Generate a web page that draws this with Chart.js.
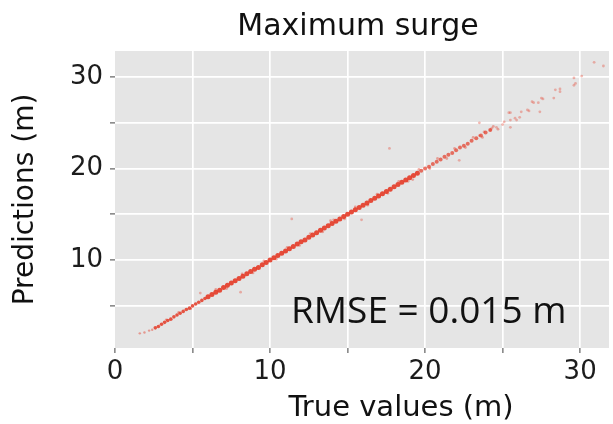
<!DOCTYPE html>
<html>
<head>
<meta charset="utf-8">
<title>Maximum surge</title>
<script src="https://cdn.jsdelivr.net/npm/chart.js@4.4.1/dist/chart.umd.min.js"></script>
<style>
    html, body { margin: 0; padding: 0; background: #fff; }
    #wrap { position: relative; width: 613px; height: 424px; overflow: hidden; }
</style>
</head>
<body>
<div id="wrap"><canvas id="surge"></canvas></div>
<script>
// ---- data (metres): [true value, prediction] ----
const lowStragglers = [[1.6, 2.0], [1.9, 2.1], [2.2, 2.3], [2.4, 2.4], [3.3, 3.5], [4.1, 4.3], [4.9, 4.7]];

const lowBand = [
    [2.6, 2.6], [2.8, 2.75], [3.0, 3.0], [3.2, 3.2], [3.4, 3.4], [3.6, 3.55], [3.8, 3.8], [4.0, 4.0],
    [4.2, 4.2], [4.4, 4.4], [4.6, 4.6], [4.8, 4.75], [5.0, 5.0], [5.2, 5.2], [5.4, 5.4], [5.6, 5.6], [5.8, 5.8]
];

const midBand = [
    [6.0, 6.0], [6.25, 6.25], [6.5, 6.5], [6.75, 6.7], [7.0, 7.0], [7.25, 7.25], [7.5, 7.5], [7.75, 7.75],
    [8.0, 8.0], [8.25, 8.25], [8.5, 8.5], [8.75, 8.75], [9.0, 9.0], [9.25, 9.2], [9.5, 9.5], [9.75, 9.75],
    [10.0, 10.0], [10.25, 10.25], [10.5, 10.5], [10.75, 10.75], [11.0, 11.0], [11.25, 11.25], [11.5, 11.5],
    [11.75, 11.75], [12.0, 12.0], [12.25, 12.2], [12.5, 12.5], [12.75, 12.75], [13.0, 13.0], [13.25, 13.25],
    [13.5, 13.5], [13.75, 13.75], [14.0, 14.0], [14.25, 14.25], [14.5, 14.5], [14.75, 14.75], [15.0, 15.0],
    [15.25, 15.25], [15.5, 15.5], [15.75, 15.75], [16.0, 16.0], [16.25, 16.25], [16.5, 16.5], [16.75, 16.75],
    [17.0, 17.0], [17.25, 17.25], [17.5, 17.5], [17.75, 17.75], [18.0, 18.0], [18.25, 18.25], [18.5, 18.5],
    [18.75, 18.75], [19.0, 19.0], [19.25, 19.25], [19.5, 19.5]
];

const highBand = [
    [19.75, 19.75], [20.0, 20.0], [20.25, 20.2], [20.5, 20.5], [20.75, 20.75], [21.0, 21.0], [21.25, 21.3],
    [21.5, 21.5], [21.75, 21.7], [22.0, 22.0], [22.25, 22.3], [22.5, 22.5], [22.75, 22.7], [23.0, 23.05],
    [23.3, 23.3], [23.6, 23.6], [23.9, 23.95], [24.2, 24.2]
];

const bandFuzz = [
    [6.5, 6.8], [7.2, 6.9], [8.2, 8.5], [8.9, 8.6], [9.6, 9.9], [10.4, 10.1], [11.1, 11.4], [11.9, 11.6],
    [12.6, 12.9], [13.4, 13.1], [14.1, 14.4], [14.8, 14.5], [15.5, 15.8], [16.3, 16.0], [16.9, 17.2],
    [17.6, 17.3], [18.3, 18.6], [18.9, 18.6], [19.6, 19.9], [20.3, 20.0], [20.8, 21.1], [21.4, 21.1],
    [21.9, 22.2], [22.6, 22.3], [23.1, 23.4], [23.7, 23.4], [24.4, 24.6], [24.7, 24.3], [13.9, 14.3], [19.2, 18.8]
];

const outliers = [
    [5.5, 6.4], [8.1, 6.5], [11.4, 14.5], [15.9, 14.4], [17.7, 22.2], [22.2, 20.9], [23.5, 25.0],
    [23.5, 23.6], [23.8, 24.0], [24.2, 24.2], [24.3, 24.4], [24.6, 24.5], [25.0, 24.8], [25.1, 25.1],
    [25.4, 26.1], [25.5, 24.5], [25.5, 25.3], [25.5, 26.1], [25.8, 25.5], [25.9, 25.3], [26.1, 25.6],
    [26.2, 26.2], [26.6, 26.4], [26.7, 26.3], [26.9, 27.3], [27.0, 27.2], [27.3, 27.2], [27.4, 26.2],
    [27.5, 27.7], [27.6, 27.6], [28.3, 27.7], [28.4, 28.6], [28.7, 28.4], [28.7, 28.7], [29.6, 29.1],
    [29.6, 29.9], [29.7, 29.3], [30.1, 30.1], [30.9, 31.6], [31.5, 31.2]
];

const xTicks = [0, 5, 10, 15, 20, 25, 30];
const yTicks = [5, 10, 15, 20, 25, 30];
const xRange = [0, 31.86];
const yRange = [0.4, 32.84];

const rmseText = 'RMSE = 0.015 m';
const rmseAt = [11.35, 3.1];

const red = a => `rgba(228, 58, 38, ${a})`;
const axisFont = "'DejaVu Sans', sans-serif";

function pts(list) {
    return list.map(([x, y]) => ({ x, y }));
}

function scatterSet(label, list, radius, alpha) {
    return {
        label,
        data: pts(list),
        pointRadius: radius,
        pointBorderWidth: 0,
        pointBackgroundColor: red(alpha),
        showLine: false
    };
}

// grey panel behind the grid
const panelBackground = {
    id: 'panelBackground',
    beforeDraw(chart) {
        const { ctx, chartArea: a } = chart;
        ctx.save();
        ctx.fillStyle = '#e5e5e5';
        ctx.fillRect(a.left, a.top, a.right - a.left, a.bottom - a.top);
        ctx.restore();
    }
};

// title, x axis title and the RMSE note
const textLayer = {
    id: 'textLayer',
    afterDraw(chart) {
        const { ctx, scales } = chart;
        ctx.save();
        ctx.fillStyle = '#111';
        ctx.textAlign = 'center';
        ctx.textBaseline = 'alphabetic';
        ctx.font = `30px ${axisFont}`;
        ctx.fillText('Maximum surge', 358, 35);

        ctx.font = `29px ${axisFont}`;
        ctx.fillText('True values (m)', 401, 416);

        ctx.textAlign = 'left';
        ctx.font = "37px 'Open Sans', sans-serif";
        ctx.fillText(rmseText, scales.x.getPixelForValue(rmseAt[0]), scales.y.getPixelForValue(rmseAt[1]));
        ctx.restore();
    }
};

const gridCommon = {
    lineWidth: 1.7,
    tickLength: 5,
    tickWidth: 1.5,
    tickColor: '#808080'
};

new Chart(document.getElementById('surge'), {
    type: 'scatter',
    data: {
        datasets: [
            scatterSet('outliers', outliers, 1.4, 0.35),
            scatterSet('fuzz', bandFuzz, 1.4, 0.4),
            scatterSet('stragglers', lowStragglers, 1.2, 0.45),
            scatterSet('low', lowBand, 1.8, 0.85),
            scatterSet('high', highBand, 2.0, 0.7),
            scatterSet('mid', midBand, 2.5, 0.9)
        ]
    },
    options: {
        responsive: true,
        maintainAspectRatio: false,
        animation: false,
        events: [],
        layout: { padding: { top: 51, right: 0, bottom: 0, left: 0 } },
        plugins: {
            legend: { display: false },
            tooltip: { enabled: false },
            title: { display: false }
        },
        scales: {
            x: {
                type: 'linear',
                min: xRange[0],
                max: xRange[1],
                afterBuildTicks: s => { s.ticks = xTicks.map(v => ({ value: v })); },
                afterFit: s => { s.height = 76; },
                border: { display: false },
                grid: {
                    ...gridCommon,
                    color: c => (c.tick && c.tick.value === 0 ? 'rgba(0,0,0,0)' : '#ffffff')
                },
                ticks: {
                    autoSkip: false,
                    maxRotation: 0,
                    padding: 4,
                    color: '#1c1c1c',
                    font: { family: axisFont, size: 26 },
                    callback: v => (v % 10 === 0 ? String(v) : '')
                }
            },
            y: {
                type: 'linear',
                min: yRange[0],
                max: yRange[1],
                afterBuildTicks: s => { s.ticks = yTicks.map(v => ({ value: v })); },
                afterFit: s => { s.width = 115; },
                border: { display: false },
                grid: { ...gridCommon, color: '#ffffff' },
                ticks: {
                    autoSkip: false,
                    padding: 7,
                    color: '#1c1c1c',
                    font: { family: axisFont, size: 26 },
                    callback: v => (v % 10 === 0 ? String(v) : '')
                },
                title: {
                    display: true,
                    text: 'Predictions (m)',
                    color: '#111',
                    font: { family: axisFont, size: 28, lineHeight: 1 },
                    padding: { top: 12, bottom: 0 }
                }
            }
        }
    },
    plugins: [panelBackground, textLayer]
});
</script>
</body>
</html>
